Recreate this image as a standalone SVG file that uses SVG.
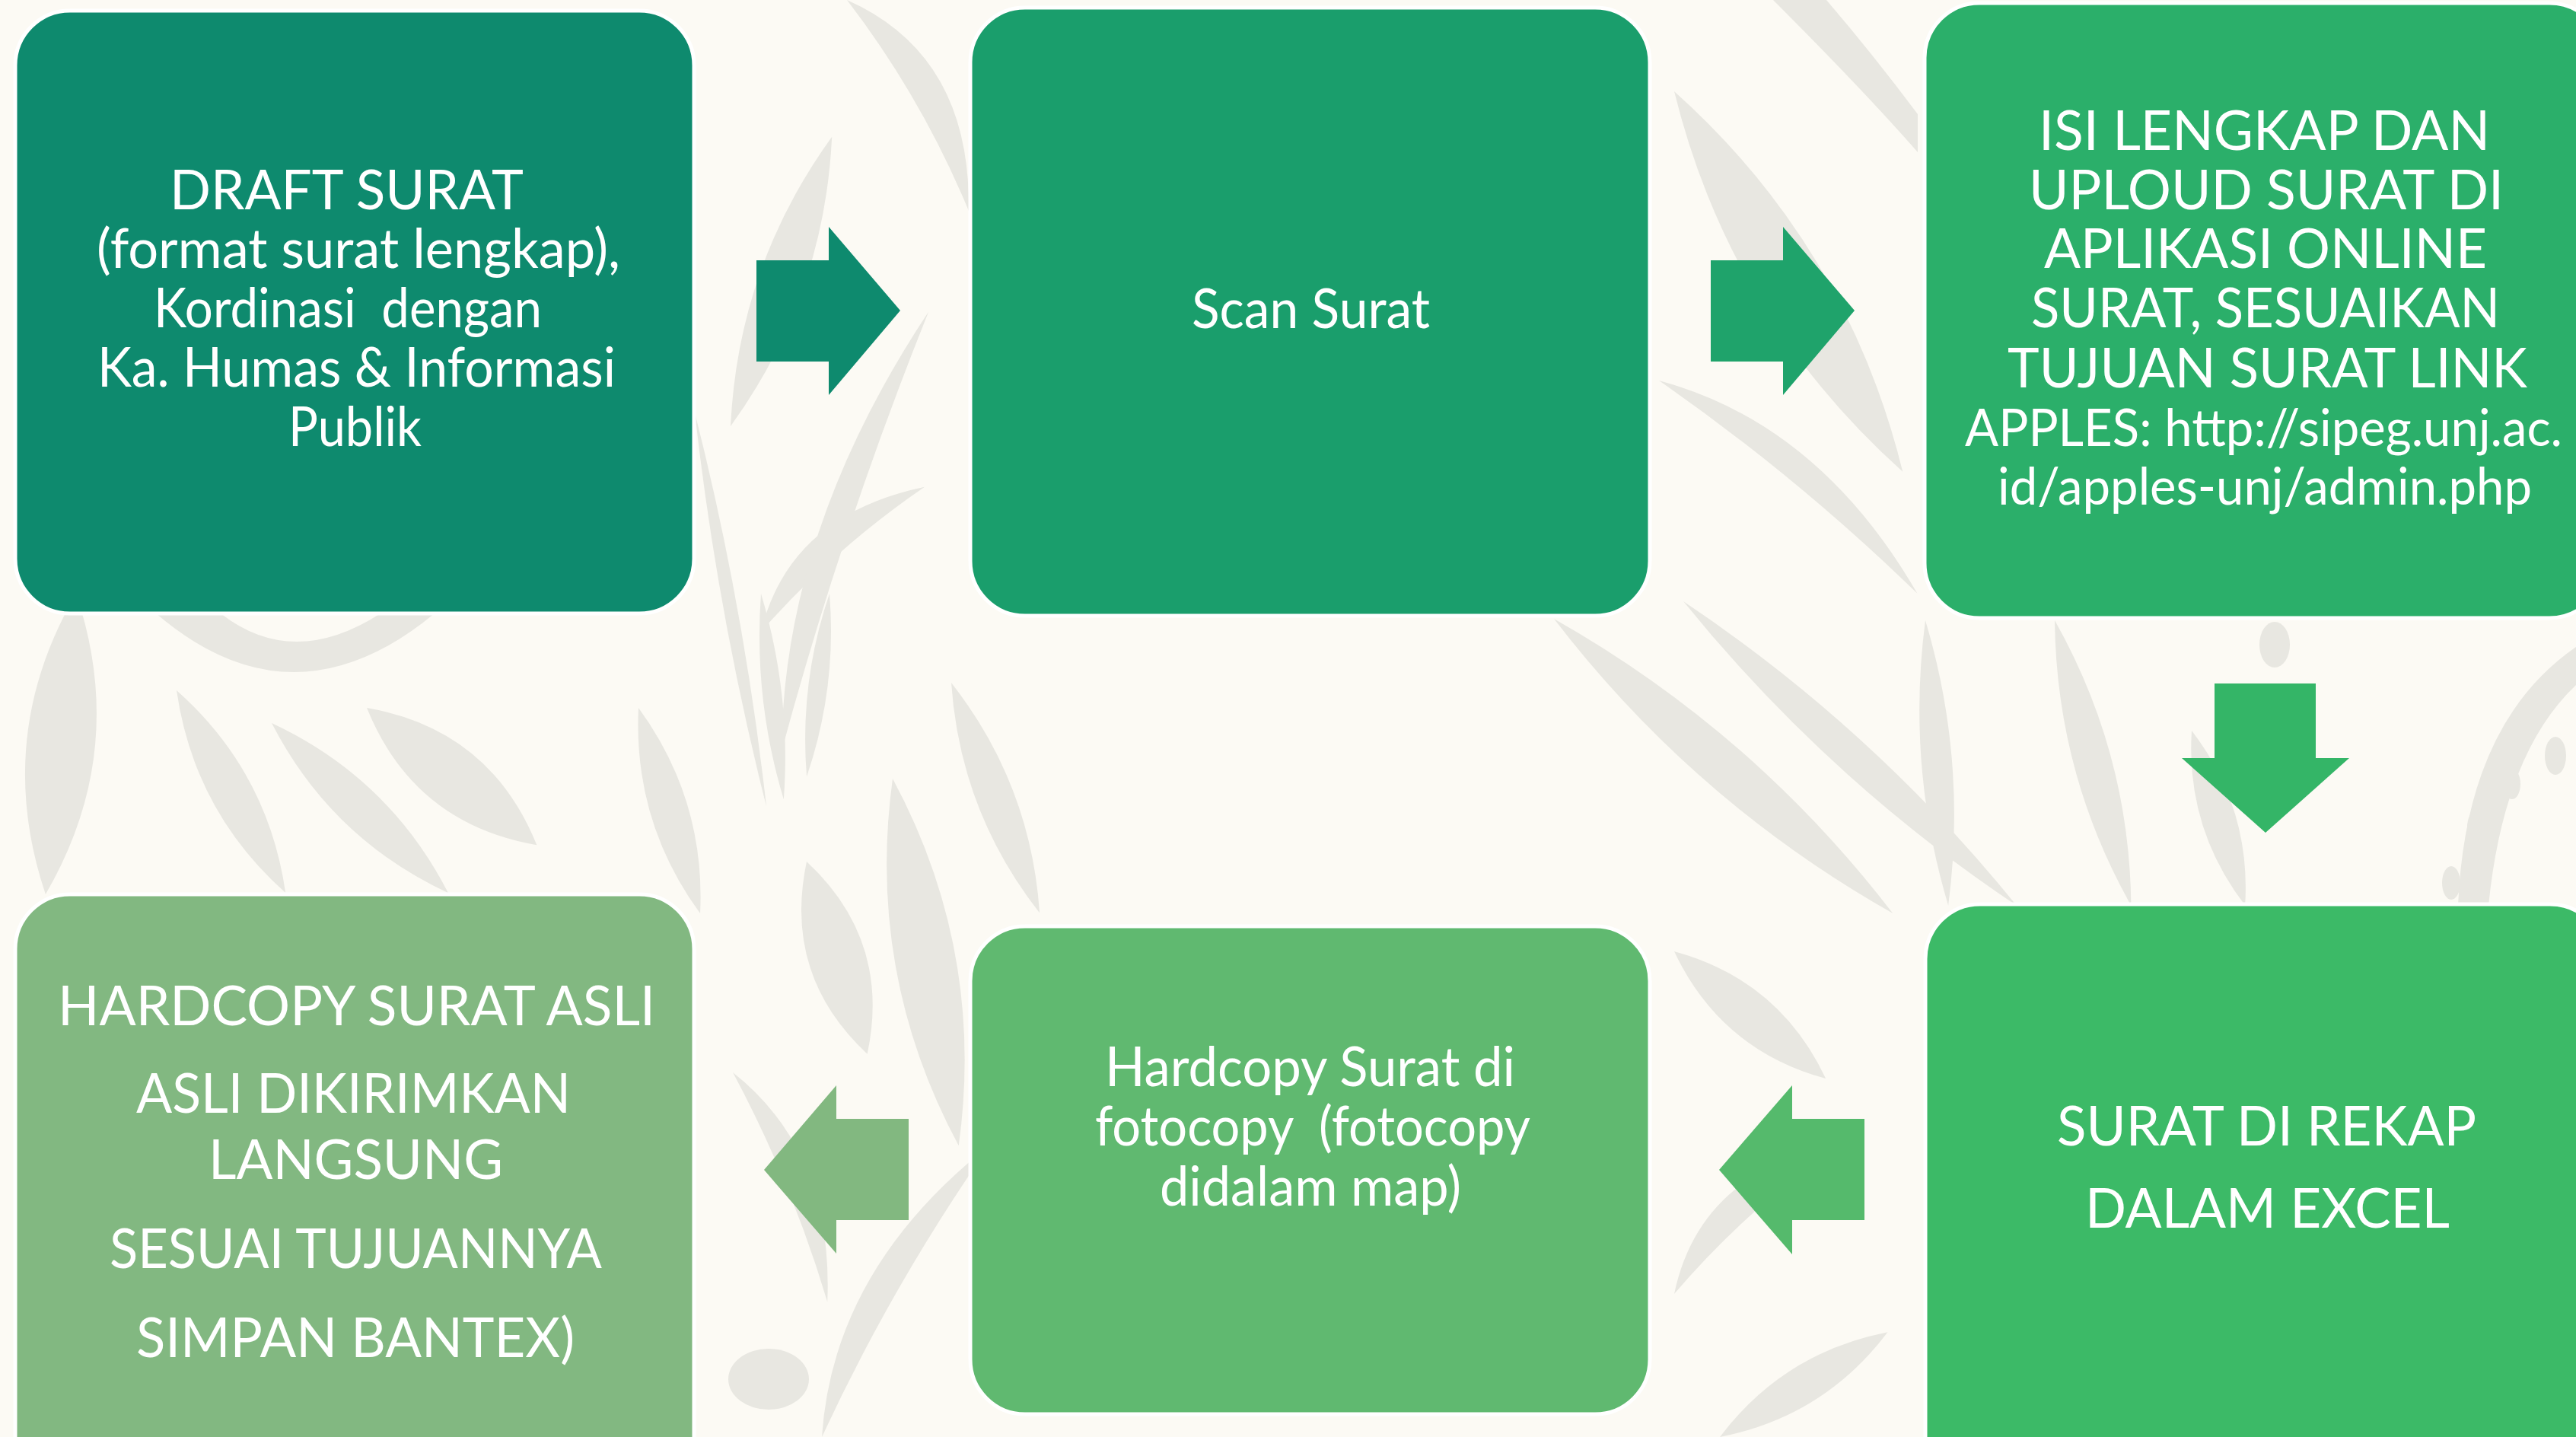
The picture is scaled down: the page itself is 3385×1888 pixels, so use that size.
<svg xmlns="http://www.w3.org/2000/svg" xmlns:xlink="http://www.w3.org/1999/xlink" width="3385" height="1888" viewBox="0 0 3385 1888">
<style>
.bg{fill:#FCFAF4}
.lf{fill:#E8E7E1}
.box{stroke:#FFFFFF;stroke-width:5}
.t{font-family:Lato,"Open Sans","Liberation Sans",sans-serif;font-size:71px;fill:#FFFFFF;white-space:pre}
.s{font-size:68px}
</style>
<defs>
<path id="leaf" d="M0,0 Q50,-60 100,0 Q50,60 0,0Z"/>
<path id="blade" d="M0,0 Q45,-75 100,0 Q50,-15 0,0Z"/>
</defs>
<rect class="bg" x="0" y="0" width="3385" height="1888"/>
<g id="background" class="lf">
<use xlink:href="#leaf" transform="translate(960,560) rotate(-70.7) scale(4.03,1)"/>
<use xlink:href="#blade" transform="translate(1000,830) rotate(-41.5) scale(2.87,1.2)"/>
<use xlink:href="#blade" transform="translate(1027,987) rotate(-71.5) scale(6.09,1.2)"/>
<use xlink:href="#leaf" transform="translate(913,542) rotate(79.7) scale(5.26,0.3)"/>
<use xlink:href="#leaf" transform="translate(1060,1132) rotate(72.5) scale(2.65,1.25)"/>
<use xlink:href="#leaf" transform="translate(1173,1023) rotate(79.8) scale(4.9,1.33)"/>
<use xlink:href="#blade" transform="translate(963,1409) rotate(67.6) scale(3.26,1.1)"/>
<ellipse cx="1010" cy="1812" rx="53" ry="40"/>
<use xlink:href="#blade" transform="translate(1080,1888) rotate(-60.1) scale(4.42,1.3)"/>
<use xlink:href="#blade" transform="translate(1113,0) rotate(60) scale(3.2,1.4)"/>
<path d="M205,806 Q385,960 571,806 L500,806 Q385,880 290,806Z"/>
<use xlink:href="#leaf" transform="translate(232,907) rotate(61.7) scale(3.02,0.92)"/>
<use xlink:href="#leaf" transform="translate(357,950) rotate(43.9) scale(3.22,0.92)"/>
<use xlink:href="#leaf" transform="translate(482,930) rotate(38.9) scale(2.87,1.33)"/>
<use xlink:href="#leaf" transform="translate(100,780) rotate(95.8) scale(3.97,1.5)"/>
<use xlink:href="#leaf" transform="translate(839,930) rotate(73.3) scale(2.82,0.83)"/>
<use xlink:href="#leaf" transform="translate(1000,780) rotate(83.7) scale(2.72,0.42)"/>
<use xlink:href="#leaf" transform="translate(1090,780) rotate(97.1) scale(2.42,0.42)"/>
<use xlink:href="#leaf" transform="translate(1250,897) rotate(69) scale(3.24,0.83)"/>
<use xlink:href="#leaf" transform="translate(2042,813) rotate(41) scale(5.9,1)"/>
<use xlink:href="#leaf" transform="translate(2212,790) rotate(42.4) scale(5.93,0.75)"/>
<use xlink:href="#leaf" transform="translate(2530,815) rotate(85.4) scale(3.76,0.67)"/>
<use xlink:href="#leaf" transform="translate(2700,815) rotate(75) scale(3.88,0.83)"/>
<use xlink:href="#leaf" transform="translate(2880,960) rotate(73) scale(2.4,0.75)"/>
<ellipse cx="2989" cy="847" rx="20" ry="30"/>
<ellipse cx="3358" cy="993" rx="14" ry="25"/>
<ellipse cx="3301" cy="1030" rx="11" ry="20"/>
<ellipse cx="3254" cy="1087" rx="12" ry="22"/>
<ellipse cx="3221" cy="1160" rx="12" ry="22"/>
<path d="M3385,850 Q3240,950 3230,1190 L3270,1190 Q3290,990 3385,900Z"/>
<use xlink:href="#leaf" transform="translate(2200,120) rotate(59) scale(5.83,1.5)"/>
<use xlink:href="#blade" transform="translate(2180,500) rotate(39.5) scale(4.4,1.2)"/>
<path d="M2330,0 Q2450,120 2520,200 L2520,150 Q2460,70 2400,0Z"/>
<use xlink:href="#leaf" transform="translate(2200,1250) rotate(40) scale(2.6,1)"/>
<use xlink:href="#blade" transform="translate(2200,1700) rotate(-42) scale(2.96,1.3)"/>
<use xlink:href="#leaf" transform="translate(2260,1888) rotate(-32) scale(2.6,0.83)"/>
</g>
<g id="connectors">
<polygon id="arrow-1-2" fill="#0E8A6E" points="994,342 1089,342 1089,298 1183,408 1089,519 1089,475 994,475"/>
<polygon id="arrow-2-3" fill="#1FA36B" points="2248,342 2343,342 2343,298 2437,408 2343,519 2343,475 2248,475"/>
<polygon id="arrow-3-6" fill="#34B567" points="2910,898 3043,898 3043,996 3087,996 2977,1094 2867,996 2910,996"/>
<polygon id="arrow-6-5" fill="#55BA6C" points="2450,1470 2355,1470 2355,1426 2259,1537 2355,1648 2355,1603 2450,1603"/>
<polygon id="arrow-5-4" fill="#82B880" points="1194,1470 1099,1470 1099,1426 1004,1537 1099,1647 1099,1603 1194,1603"/>
</g>
<g id="node-1">
<rect class="box" x="20" y="14" width="892" height="792" rx="72" ry="72" fill="#0E8A6E"/>
<text class="t" x="223" y="275" textLength="465" lengthAdjust="spacingAndGlyphs">DRAFT SURAT</text>
<text class="t" x="127" y="352" textLength="688" lengthAdjust="spacingAndGlyphs">(format surat lengkap),</text>
<text class="t" x="202" y="430" textLength="510" lengthAdjust="spacingAndGlyphs">Kordinasi  dengan</text>
<text class="t" x="128" y="508" textLength="681" lengthAdjust="spacingAndGlyphs">Ka. Humas &amp; Informasi</text>
<text class="t" x="379" y="586" textLength="175" lengthAdjust="spacingAndGlyphs">Publik</text>
</g>
<g id="node-2">
<rect class="box" x="1275" y="10" width="893" height="799" rx="72" ry="72" fill="#1A9E6C"/>
<text class="t" x="1566" y="431" textLength="313" lengthAdjust="spacingAndGlyphs">Scan Surat</text>
</g>
<g id="node-3">
<rect class="box" x="2529" y="4" width="893" height="808" rx="72" ry="72" fill="#2BAF6A"/>
<text class="t" x="2679" y="197" textLength="593" lengthAdjust="spacingAndGlyphs">ISI LENGKAP DAN</text>
<text class="t" x="2666" y="275" textLength="624" lengthAdjust="spacingAndGlyphs">UPLOUD SURAT DI</text>
<text class="t" x="2686" y="352" textLength="582" lengthAdjust="spacingAndGlyphs">APLIKASI ONLINE</text>
<text class="t" x="2669" y="430" textLength="616" lengthAdjust="spacingAndGlyphs">SURAT, SESUAIKAN</text>
<text class="t" x="2638" y="509" textLength="683" lengthAdjust="spacingAndGlyphs">TUJUAN SURAT LINK</text>
<text class="t s" x="2582" y="586" textLength="785" lengthAdjust="spacingAndGlyphs">APPLES: http://sipeg.unj.ac.</text>
<text class="t s" x="2625" y="663" textLength="702" lengthAdjust="spacingAndGlyphs">id/apples-unj/admin.php</text>
</g>
<g id="node-6">
<rect class="box" x="2530" y="1188" width="893" height="800" rx="72" ry="72" fill="#3CBA67"/>
<text class="t" x="2703" y="1505" textLength="551" lengthAdjust="spacingAndGlyphs">SURAT DI REKAP</text>
<text class="t" x="2740" y="1613" textLength="479" lengthAdjust="spacingAndGlyphs">DALAM EXCEL</text>
</g>
<g id="node-5">
<rect class="box" x="1275" y="1217" width="893" height="641" rx="72" ry="72" fill="#60B970"/>
<text class="t" x="1452" y="1427" textLength="539" lengthAdjust="spacingAndGlyphs">Hardcopy Surat di</text>
<text class="t" x="1439" y="1505" textLength="572" lengthAdjust="spacingAndGlyphs">fotocopy  (fotocopy</text>
<text class="t" x="1524" y="1584" textLength="396" lengthAdjust="spacingAndGlyphs">didalam map)</text>
</g>
<g id="node-4">
<rect class="box" x="20" y="1175" width="892" height="800" rx="72" ry="72" fill="#82B881"/>
<text class="t" x="76" y="1347" textLength="785" lengthAdjust="spacingAndGlyphs">HARDCOPY SURAT ASLI</text>
<text class="t" x="179" y="1462" textLength="571" lengthAdjust="spacingAndGlyphs">ASLI DIKIRIMKAN</text>
<text class="t" x="274" y="1549" textLength="387" lengthAdjust="spacingAndGlyphs">LANGSUNG</text>
<text class="t" x="144" y="1666" textLength="647" lengthAdjust="spacingAndGlyphs">SESUAI TUJUANNYA</text>
<text class="t" x="179" y="1783" textLength="576" lengthAdjust="spacingAndGlyphs">SIMPAN BANTEX)</text>
</g>
</svg>
